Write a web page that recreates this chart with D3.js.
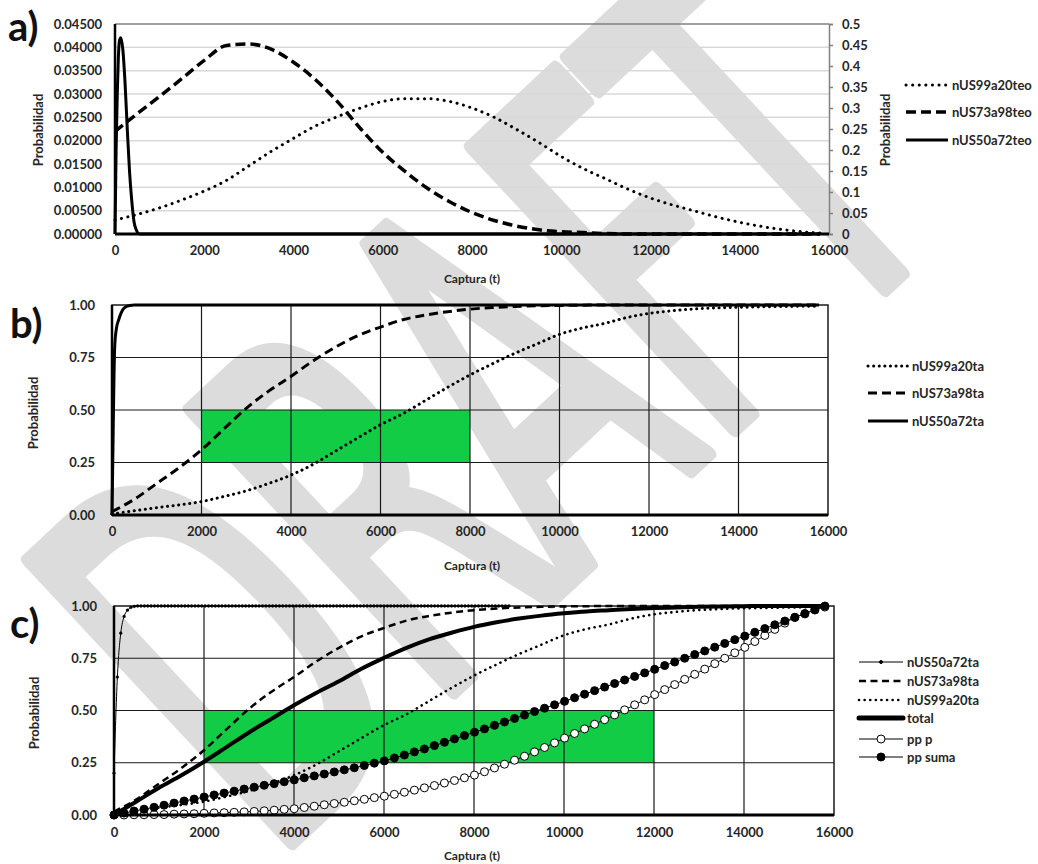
<!DOCTYPE html>
<html>
<head>
<meta charset="utf-8">
<script src="https://cdn.jsdelivr.net/npm/d3@7"></script>
<style>
  body { margin: 0; background: #fff; }
  svg text { font-family: Lato, "Open Sans", sans-serif; }
</style>
</head>
<body>
<div id="wrapper"></div>
<script>
// ---------- Datos ----------

// a) densidades teóricas (captura en t)
const capturaA = [0, 500, 1000, 1500, 2000, 2500, 3000, 3500, 4000, 4500, 5000, 5500,
  6000, 6500, 7000, 7500, 8000, 8500, 9000, 9500, 10000, 10500, 11000, 11500,
  12000, 12500, 13000, 13500, 14000, 14500, 15000, 15500, 15800];
const nUS99a20teo = [0.0030, 0.0042, 0.0056, 0.0073, 0.0092, 0.0115, 0.0146, 0.0177,
  0.0205, 0.0232, 0.0252, 0.0270, 0.0284, 0.0290, 0.0290, 0.0284, 0.0270, 0.0250,
  0.0224, 0.0196, 0.0166, 0.0140, 0.0118, 0.0096, 0.0077, 0.0062, 0.0049, 0.0036,
  0.0025, 0.0016, 0.0009, 0.0004, 0.0002];
const nUS73a98teo = [0.0220, 0.0258, 0.0295, 0.0333, 0.0372, 0.0404, 0.0407, 0.0396,
  0.0368, 0.0330, 0.0282, 0.0226, 0.0175, 0.0134, 0.0098, 0.0069, 0.0046, 0.0029,
  0.0017, 0.0009, 0.0005, 0.0003, 0.0001, 0, 0, 0, 0, 0, 0, 0, 0, 0, 0];
// eje secundario
const captura50teo = [0, 25, 50, 75, 100, 130, 175, 225, 275, 325, 375, 425, 475, 550, 700, 15800];
const nUS50a72teo = [0, 0.20, 0.33, 0.42, 0.46, 0.467, 0.44, 0.36, 0.25, 0.15, 0.08, 0.03, 0.01, 0, 0, 0];

// b) y c) acumuladas
const capturaB = capturaA;
const nUS99a20ta = [0.005, 0.020, 0.035, 0.048, 0.064, 0.088, 0.115, 0.150, 0.190, 0.242,
  0.305, 0.368, 0.430, 0.482, 0.545, 0.608, 0.667, 0.720, 0.770, 0.815, 0.860, 0.890,
  0.912, 0.940, 0.960, 0.972, 0.981, 0.986, 0.989, 0.991, 0.993, 0.994, 0.995];
const nUS73a98ta = [0.016, 0.075, 0.150, 0.225, 0.310, 0.410, 0.508, 0.590, 0.660, 0.735,
  0.800, 0.855, 0.895, 0.930, 0.952, 0.968, 0.980, 0.988, 0.993, 0.996, 0.998, 0.999,
  1, 1, 1, 1, 1, 1, 1, 1, 1, 1, 1];
const captura50 = [0, 20, 40, 60, 100, 150, 200, 250, 300, 400, 500, 15800];
const nUS50a72ta = [0, 0.30, 0.60, 0.80, 0.89, 0.93, 0.96, 0.98, 0.99, 0.998, 1, 1];
const total = [0, 0.065, 0.130, 0.190, 0.255, 0.325, 0.395, 0.460, 0.525, 0.585, 0.640,
  0.700, 0.752, 0.800, 0.840, 0.872, 0.900, 0.922, 0.940, 0.954, 0.965, 0.974, 0.980,
  0.986, 0.990, 0.993, 0.996, 0.998, 0.999, 1, 1, 1, 1];

// c) nUS50a72ta con marcadores (meseta en 1 hasta ~8800 t)
const captura50c = d3.range(0, 8776, 75);
const nUS50a72taC = [0.20, 0.66, 0.87, 0.95, 0.98, 0.993, 0.998]
  .concat(new Array(captura50c.length - 7).fill(1));

// posiciones de graficación
const capturaPP = d3.range(72).map(i => i * 222.5);
const ppP = [0, 0, 0.001, 0.001, 0.002, 0.002, 0.004, 0.005, 0.006, 0.008, 0.010, 0.011,
  0.013, 0.015, 0.017, 0.020, 0.023, 0.027, 0.030, 0.036, 0.042, 0.049, 0.055, 0.061,
  0.068, 0.075, 0.083, 0.090, 0.099, 0.109, 0.119, 0.130, 0.141, 0.153, 0.165, 0.178,
  0.191, 0.207, 0.225, 0.243, 0.262, 0.281, 0.302, 0.323, 0.345, 0.368, 0.390, 0.412,
  0.434, 0.456, 0.479, 0.503, 0.527, 0.551, 0.576, 0.600, 0.624, 0.649, 0.673, 0.698,
  0.724, 0.750, 0.776, 0.802, 0.830, 0.859, 0.888, 0.918, 0.945, 0.962, 0.981, 0.995];
const ppSuma = [0, 0.009, 0.019, 0.028, 0.037, 0.047, 0.057, 0.067, 0.076, 0.086, 0.096,
  0.105, 0.114, 0.124, 0.133, 0.142, 0.150, 0.159, 0.168, 0.178, 0.187, 0.196, 0.206,
  0.216, 0.226, 0.237, 0.248, 0.259, 0.273, 0.287, 0.302, 0.316, 0.332, 0.348, 0.364,
  0.380, 0.396, 0.412, 0.429, 0.445, 0.462, 0.478, 0.495, 0.511, 0.527, 0.544, 0.561,
  0.578, 0.595, 0.612, 0.629, 0.646, 0.663, 0.680, 0.697, 0.715, 0.732, 0.750, 0.768,
  0.785, 0.803, 0.821, 0.839, 0.856, 0.874, 0.892, 0.910, 0.928, 0.946, 0.964, 0.982, 1.0];

// ticks
const ticksX = [0, 2000, 4000, 6000, 8000, 10000, 12000, 14000, 16000];
const ticksIzqA = [0, 0.005, 0.01, 0.015, 0.02, 0.025, 0.03, 0.035, 0.04, 0.045];
const ticksDerA = [0, 0.05, 0.1, 0.15, 0.2, 0.25, 0.3, 0.35, 0.4, 0.45, 0.5];
const ticksProb = [0, 0.25, 0.5, 0.75, 1];
const gridX = [2000, 4000, 6000, 8000, 10000, 12000, 14000];
const gridProb = [0.25, 0.5, 0.75];

// ---------- Estilos ----------
const punteadoA = { width: 3, dash: "0.1 6.5", cap: "round" };
const guionesA = { width: 3.5, dash: "10 5", cap: "butt" };
const continuaA = { width: 3, dash: null, cap: "butt" };
const punteadoB = { width: 3, dash: "0.1 5.5", cap: "round" };
const guionesB = { width: 3, dash: "9 5", cap: "butt" };
const continuaB = { width: 3, dash: null, cap: "butt" };
const punteadoC = { width: 2.6, dash: "0.1 5.5", cap: "round" };
const guionesC = { width: 2.5, dash: "7 4.5", cap: "butt" };
const delgada = { width: 1, dash: null, cap: "butt" };
const gruesa = { width: 4, dash: null, cap: "butt" };
const verde = "#12cc46";
const textColor = "#262626";
const gris = "#dcdcdc";

// ---------- Lienzo ----------
const svg = d3.select("#wrapper")
  .append("svg")
    .attr("width", 1038)
    .attr("height", 864);

// marca de agua (detrás de todo)
svg.append("text")
    .text("DRAFT")
    .attr("transform", "translate(269,863) rotate(-43) scale(0.544,1)")
    .style("font-family", "'DejaVu Sans'")
    .style("font-size", "528px")
    .attr("fill", gris)
    .attr("stroke", gris)
    .attr("stroke-width", 16)
    .attr("stroke-linejoin", "round");

// ---------- Ayudantes ----------
function styleTicks(sel, size) {
  sel.selectAll("text")
    .style("font-family", "Lato, sans-serif")
    .style("font-weight", "700")
    .style("font-size", `${size}px`)
    .attr("fill", textColor);
}

function ejeX(g, x, y0, pad) {
  g.append("g")
      .attr("transform", `translate(0,${y0})`)
      .call(d3.axisBottom(x).tickValues(ticksX).tickSize(0).tickPadding(pad).tickFormat(d3.format("d")))
      .call(a => a.select(".domain").remove())
      .call(a => styleTicks(a, 13));
}

function ejeY(g, y, x0, ticks, fmt, pad) {
  g.append("g")
      .attr("transform", `translate(${x0},0)`)
      .call(d3.axisLeft(y).tickValues(ticks).tickSize(0).tickPadding(pad).tickFormat(fmt))
      .call(a => a.select(".domain").remove())
      .call(a => styleTicks(a, 13));
}

function trazo(g, x, y, xs, ys, estilo) {
  const line = d3.line()
    .x((d, i) => x(xs[i]))
    .y(d => y(d))
    .curve(d3.curveMonotoneX);
  const p = g.append("path")
      .datum(ys)
      .attr("d", line)
      .attr("fill", "none")
      .attr("stroke", "#000")
      .attr("stroke-width", estilo.width)
      .attr("stroke-linecap", estilo.cap)
      .attr("stroke-linejoin", "round");
  if (estilo.dash) p.attr("stroke-dasharray", estilo.dash);
}

function marcadores(g, x, y, xs, ys, r, fill, sw) {
  g.append("g").selectAll("circle")
    .data(ys)
    .join("circle")
      .attr("cx", (d, i) => x(xs[i]))
      .attr("cy", d => y(d))
      .attr("r", r)
      .attr("fill", fill)
      .attr("stroke", "#000")
      .attr("stroke-width", sw);
}

function titulos(g, cx, y, cxLabel, cyLabel) {
  g.append("text")
      .attr("x", cx).attr("y", y)
      .attr("text-anchor", "middle")
      .style("font-weight", "700").style("font-size", "12px")
      .attr("fill", textColor)
      .text("Captura (t)");
  g.append("text")
      .attr("transform", `translate(${cxLabel},${cyLabel}) rotate(-90)`)
      .attr("text-anchor", "middle")
      .attr("dy", "0.35em")
      .style("font-weight", "700").style("font-size", "13px")
      .attr("fill", textColor)
      .text("Probabilidad");
}

function leyenda(g, x0, x1, items) {
  items.forEach(it => {
    trazo(g, d3.scaleIdentity(), d3.scaleIdentity(), [x0, x1], [it.y, it.y], it.estilo);
    if (it.marca) {
      g.append("circle")
          .attr("cx", (x0 + x1) / 2).attr("cy", it.y)
          .attr("r", it.marca.r).attr("fill", it.marca.fill)
          .attr("stroke", "#000").attr("stroke-width", 1);
    }
    g.append("text")
        .attr("x", x1 + 4).attr("y", it.y)
        .attr("dy", "0.35em")
        .style("font-weight", "700").style("font-size", "13px")
        .attr("fill", textColor)
        .text(it.nombre);
  });
}

function letra(txt, x, y) {
  svg.append("text")
      .attr("x", x).attr("y", y)
      .style("font-weight", "700").style("font-size", "40px")
      .attr("fill", "#111")
      .text(txt);
}

// ---------- Panel a ----------
{
  const g = svg.append("g");
  const x = d3.scaleLinear().domain([0, 16000]).range([115, 829]);
  const y = d3.scaleLinear().domain([0, 0.045]).range([234, 24]);
  const y2 = d3.scaleLinear().domain([0, 0.5]).range([234, 24]);

  g.append("g").selectAll("line")
    .data(ticksIzqA.slice(1, -1))
    .join("line")
      .attr("x1", x(0)).attr("x2", x(16000))
      .attr("y1", d => y(d)).attr("y2", d => y(d))
      .attr("stroke", "#d9d9d9").attr("stroke-width", 1.5);
  g.append("line").attr("x1", x(0)).attr("x2", x(16000)).attr("y1", y(0.045)).attr("y2", y(0.045))
      .attr("stroke", "#808080").attr("stroke-width", 1.5);

  // eje derecho
  g.append("g")
      .attr("transform", `translate(${x(16000)},0)`)
      .call(d3.axisRight(y2).tickValues(ticksDerA).tickSize(4).tickPadding(9).tickFormat(d3.format("~g")))
      .call(a => a.selectAll("line, path").attr("stroke", "#808080").attr("stroke-width", 1.5))
      .call(a => styleTicks(a, 13));

  trazo(g, x, y, capturaA, nUS99a20teo, punteadoA);
  trazo(g, x, y, capturaA, nUS73a98teo, guionesA);
  trazo(g, x, y2, captura50teo, nUS50a72teo, continuaA);

  g.append("line").attr("x1", x(0)).attr("x2", x(0)).attr("y1", y(0.045)).attr("y2", y(0))
      .attr("stroke", "#000").attr("stroke-width", 2.5);
  g.append("line").attr("x1", x(0)).attr("x2", x(16000)).attr("y1", y(0)).attr("y2", y(0))
      .attr("stroke", "#000").attr("stroke-width", 3);

  ejeX(g, x, y(0), 12);
  ejeY(g, y, x(0), ticksIzqA, d3.format(".5f"), 13);
  titulos(g, 472, 283, 38, 130);
  g.append("text")
      .attr("transform", "translate(885,130) rotate(-90)")
      .attr("text-anchor", "middle").attr("dy", "0.35em")
      .style("font-weight", "700").style("font-size", "13px")
      .attr("fill", textColor)
      .text("Probabilidad");

  leyenda(g, 906, 948, [
    { nombre: "nUS99a20teo", y: 85, estilo: punteadoA },
    { nombre: "nUS73a98teo", y: 112, estilo: guionesA },
    { nombre: "nUS50a72teo", y: 140, estilo: continuaA },
  ]);
  letra("a)", 8, 41);
}

// ---------- Panel b ----------
{
  const g = svg.append("g");
  const x = d3.scaleLinear().domain([0, 16000]).range([112, 828]);
  const y = d3.scaleLinear().domain([0, 1]).range([515, 305]);

  g.append("rect")
      .attr("x", x(2000)).attr("width", x(8000) - x(2000))
      .attr("y", y(0.5)).attr("height", y(0.25) - y(0.5))
      .attr("fill", verde);
  g.append("g").selectAll("line").data(gridX).join("line")
      .attr("x1", d => x(d)).attr("x2", d => x(d)).attr("y1", y(0)).attr("y2", y(1))
      .attr("stroke", "#1a1a1a").attr("stroke-width", 1.2);
  g.append("g").selectAll("line").data(gridProb).join("line")
      .attr("x1", x(0)).attr("x2", x(16000)).attr("y1", d => y(d)).attr("y2", d => y(d))
      .attr("stroke", "#1a1a1a").attr("stroke-width", 1.2);
  g.append("rect")
      .attr("x", x(0)).attr("y", y(1)).attr("width", x(16000) - x(0)).attr("height", y(0) - y(1))
      .attr("fill", "none").attr("stroke", "#1a1a1a").attr("stroke-width", 1.5);

  trazo(g, x, y, capturaB, nUS99a20ta, punteadoB);
  trazo(g, x, y, capturaB, nUS73a98ta, guionesB);
  trazo(g, x, y, captura50, nUS50a72ta, continuaB);

  g.append("line").attr("x1", x(0)).attr("x2", x(0)).attr("y1", y(1)).attr("y2", y(0))
      .attr("stroke", "#000").attr("stroke-width", 2.5);
  g.append("line").attr("x1", x(0)).attr("x2", x(16000)).attr("y1", y(0)).attr("y2", y(0))
      .attr("stroke", "#000").attr("stroke-width", 3);

  ejeX(g, x, y(0), 12);
  ejeY(g, y, x(0), ticksProb, d3.format(".2f"), 17);
  titulos(g, 472, 570, 33, 413);

  leyenda(g, 868, 908, [
    { nombre: "nUS99a20ta", y: 366, estilo: punteadoB },
    { nombre: "nUS73a98ta", y: 393, estilo: guionesB },
    { nombre: "nUS50a72ta", y: 421, estilo: continuaB },
  ]);
  letra("b)", 10, 338);
}

// ---------- Panel c ----------
{
  const g = svg.append("g");
  const x = d3.scaleLinear().domain([0, 16000]).range([114, 834]);
  const y = d3.scaleLinear().domain([0, 1]).range([815, 606]);

  g.append("rect")
      .attr("x", x(2000)).attr("width", x(12000) - x(2000))
      .attr("y", y(0.5)).attr("height", y(0.25) - y(0.5))
      .attr("fill", verde);
  g.append("g").selectAll("line").data(gridX).join("line")
      .attr("x1", d => x(d)).attr("x2", d => x(d)).attr("y1", y(0)).attr("y2", y(1))
      .attr("stroke", "#1a1a1a").attr("stroke-width", 1.2);
  g.append("g").selectAll("line").data(gridProb).join("line")
      .attr("x1", x(0)).attr("x2", x(16000)).attr("y1", d => y(d)).attr("y2", d => y(d))
      .attr("stroke", "#1a1a1a").attr("stroke-width", 1.2);
  g.append("rect")
      .attr("x", x(0)).attr("y", y(1)).attr("width", x(16000) - x(0)).attr("height", y(0) - y(1))
      .attr("fill", "none").attr("stroke", "#1a1a1a").attr("stroke-width", 1.5);

  trazo(g, x, y, captura50c, nUS50a72taC, delgada);
  marcadores(g, x, y, captura50c, nUS50a72taC, 1.4, "#000", 0.4);
  trazo(g, x, y, capturaB, nUS73a98ta, guionesC);
  trazo(g, x, y, capturaB, nUS99a20ta, punteadoC);
  trazo(g, x, y, capturaB, total, gruesa);
  trazo(g, x, y, capturaPP, ppP, delgada);
  marcadores(g, x, y, capturaPP, ppP, 4, "#fff", 1);
  trazo(g, x, y, capturaPP, ppSuma, delgada);
  marcadores(g, x, y, capturaPP, ppSuma, 4, "#000", 1);

  g.append("line").attr("x1", x(0)).attr("x2", x(0)).attr("y1", y(1)).attr("y2", y(0))
      .attr("stroke", "#000").attr("stroke-width", 2.5);
  g.append("line").attr("x1", x(0)).attr("x2", x(16000)).attr("y1", y(0)).attr("y2", y(0))
      .attr("stroke", "#000").attr("stroke-width", 3);

  ejeX(g, x, y(0), 13);
  ejeY(g, y, x(0), ticksProb, d3.format(".2f"), 17);
  titulos(g, 472, 860, 34, 713);

  leyenda(g, 859, 903, [
    { nombre: "nUS50a72ta", y: 662, estilo: delgada, marca: { r: 1.5, fill: "#000" } },
    { nombre: "nUS73a98ta", y: 681, estilo: guionesC },
    { nombre: "nUS99a20ta", y: 700, estilo: punteadoC },
    { nombre: "total", y: 718, estilo: { width: 5, dash: null, cap: "round" } },
    { nombre: "pp p", y: 739, estilo: delgada, marca: { r: 4, fill: "#fff" } },
    { nombre: "pp suma", y: 757, estilo: delgada, marca: { r: 4, fill: "#000" } },
  ]);
  letra("c)", 10, 638);
}
</script>
</body>
</html>
